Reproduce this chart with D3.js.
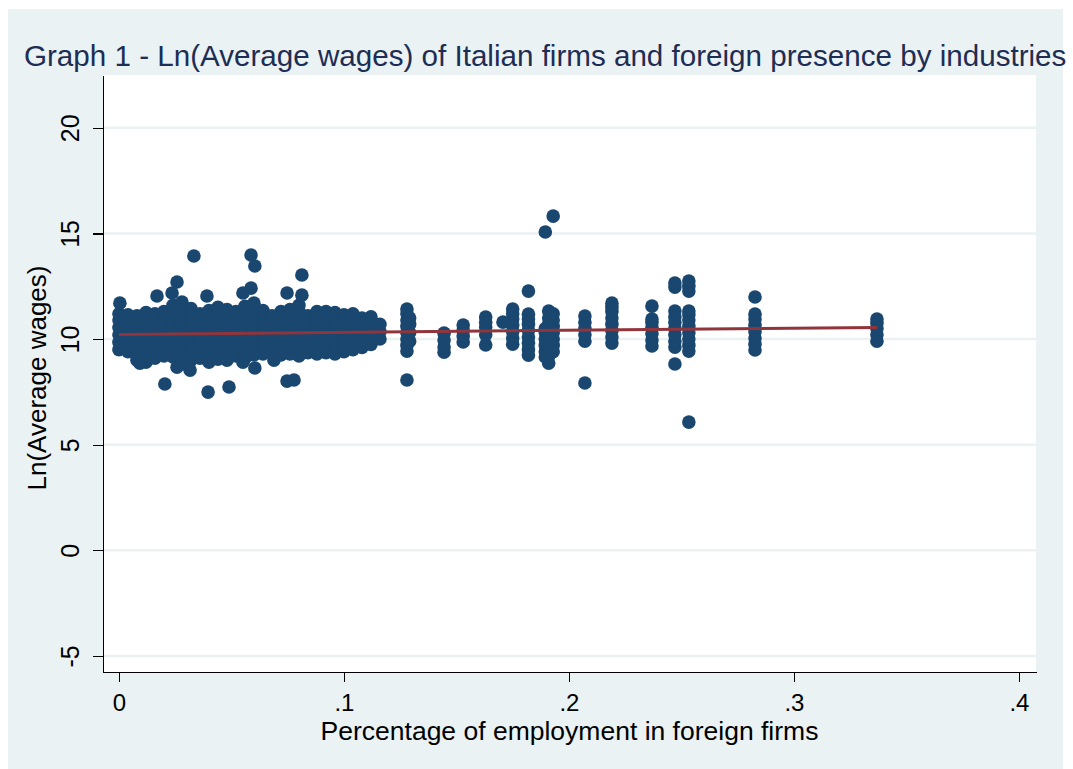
<!DOCTYPE html>
<html>
<head>
<meta charset="utf-8">
<title>Graph 1 - Ln(Average wages) of Italian firms and foreign presence by industries</title>
<script src="https://d3js.org/d3.v7.min.js"></script>
<style>
  body { margin: 0; background: #ffffff; font-family: "Liberation Sans", Arial, sans-serif; }
  .axis path, .axis line { stroke: #000; stroke-width: 1.2; shape-rendering: crispEdges; }
  .axis text { font-family: "Liberation Sans", Arial, sans-serif; fill: #000; }
  .grid line { stroke: #eaf2f3; stroke-width: 2.5; }
  .dot { fill: #1a476f; }
  .fit { fill: none; stroke: #90353b; stroke-width: 3; }
</style>
</head>
<body>
<svg id="chart" width="1073" height="769"></svg>
<script>
// axis ticks
var xTicks = [0, 0.1, 0.2, 0.3, 0.4];
var xTickLabels = ["0", ".1", ".2", ".3", ".4"];
var yTicks = [-5, 0, 5, 10, 15, 20];
var yTickLabels = ["-5", "0", "5", "10", "15", "20"];

// share of employment in foreign firms, one entry per industry column
var industryShare = [
  0.000, 0.004, 0.008, 0.012, 0.016, 0.020, 0.024, 0.028, 0.032, 0.036,
  0.040, 0.044, 0.048, 0.052, 0.056, 0.060, 0.064, 0.068, 0.072, 0.076,
  0.080, 0.084, 0.088, 0.092, 0.096, 0.100, 0.104, 0.108, 0.112, 0.116,
  0.1280, 0.1292, 0.1445, 0.1530, 0.1630, 0.1707, 0.1750, 0.1820, 0.1895, 0.1910,
  0.1930, 0.2071, 0.2191, 0.2369, 0.2471, 0.2533, 0.2827, 0.3369
];

// ln(average wages) of the firms in each industry column
var industryWages = [
  [9.5, 9.85, 10.2, 10.55, 10.9, 11.2],
  [9.4, 9.75, 10.1, 10.45, 10.8, 11.15],
  [9.0, 9.35, 9.7, 10.05, 10.4, 10.75, 11.1],
  [8.9, 9.25, 9.6, 9.95, 10.3, 10.65, 11.0, 11.25],
  [9.1, 9.45, 9.8, 10.15, 10.5, 10.85, 11.2],
  [9.2, 9.55, 9.9, 10.25, 10.6, 10.95, 11.3],
  [9.15, 9.5, 9.85, 10.2, 10.55, 10.9, 11.25, 11.6],
  [8.95, 9.3, 9.65, 10.0, 10.35, 10.7, 11.05, 11.4, 11.75],
  [9.0, 9.35, 9.7, 10.05, 10.4, 10.75, 11.1, 11.45],
  [9.1, 9.45, 9.8, 10.15, 10.5, 10.85, 11.2],
  [8.9, 9.25, 9.6, 9.95, 10.3, 10.65, 11.0, 11.35],
  [9.05, 9.4, 9.75, 10.1, 10.45, 10.8, 11.15, 11.5],
  [9.0, 9.35, 9.7, 10.05, 10.4, 10.75, 11.1, 11.4],
  [9.2, 9.55, 9.9, 10.25, 10.6, 10.95, 11.3],
  [9.1, 9.45, 9.8, 10.15, 10.5, 10.85, 11.2, 11.55],
  [9.25, 9.6, 9.95, 10.3, 10.65, 11.0, 11.35, 11.7],
  [9.3, 9.65, 10.0, 10.35, 10.7, 11.05, 11.35],
  [9.35, 9.7, 10.05, 10.4, 10.75, 11.1],
  [9.25, 9.6, 9.95, 10.3, 10.65, 11.0, 11.3],
  [9.3, 9.65, 10.0, 10.35, 10.7, 11.05, 11.4],
  [9.2, 9.55, 9.9, 10.25, 10.6, 10.95, 11.3, 11.6],
  [9.35, 9.7, 10.05, 10.4, 10.75, 11.1],
  [9.3, 9.65, 10.0, 10.35, 10.7, 11.05, 11.3],
  [9.35, 9.7, 10.05, 10.4, 10.75, 11.1, 11.3],
  [9.3, 9.65, 10.0, 10.35, 10.7, 11.05, 11.25],
  [9.4, 9.75, 10.1, 10.45, 10.8, 11.15],
  [9.5, 9.85, 10.2, 10.55, 10.9, 11.2],
  [9.6, 9.95, 10.3, 10.65, 11.0],
  [9.75, 10.1, 10.45, 10.8, 11.05],
  [10.0, 10.35, 10.7],
  [8.06, 9.43, 9.7, 10.0, 10.3, 10.6, 10.9, 11.2, 11.42],
  [9.9, 10.3, 10.7, 11.0],
  [9.38, 9.62, 9.95, 10.28],
  [9.86, 10.15, 10.4, 10.66],
  [9.72, 10.2, 10.57, 10.8, 11.04],
  [10.8],
  [9.76, 10.05, 10.35, 10.65, 10.95, 11.2, 11.42],
  [9.24, 9.5, 9.8, 10.1, 10.4, 10.7, 10.95, 11.18, 12.27],
  [9.15, 9.4, 9.7, 10.0, 10.3, 10.5, 15.07],
  [8.86, 9.2, 9.5, 9.8, 10.1, 10.4, 10.7, 11.0, 11.33],
  [9.4, 9.7, 10.0, 10.3, 10.6, 10.9, 11.2, 15.82],
  [7.92, 9.9, 10.2, 10.5, 10.8, 11.09],
  [9.81, 10.1, 10.4, 10.7, 11.0, 11.3, 11.5, 11.7],
  [9.67, 9.95, 10.25, 10.55, 10.8, 10.95, 11.56],
  [8.82, 9.62, 9.9, 10.2, 10.5, 10.8, 11.05, 11.33, 12.46, 12.65],
  [6.07, 9.43, 9.7, 10.0, 10.3, 10.6, 10.9, 11.15, 11.33, 12.27, 12.5, 12.75],
  [9.48, 9.75, 10.05, 10.35, 10.65, 10.95, 11.18, 11.99],
  [9.9, 10.2, 10.5, 10.75, 10.95]
];

// scattered firms away from the main columns
var otherShare = [0.0004, 0.0093, 0.0169, 0.0204, 0.0236, 0.0258, 0.0258, 0.0298, 0.0316, 0.0333,
                  0.0391, 0.0396, 0.0489, 0.0551, 0.0551, 0.0587, 0.0587, 0.0604, 0.0604, 0.0689,
                  0.0747, 0.0747, 0.0778, 0.0813, 0.0813];
var otherWage  = [11.70, 8.86, 12.04, 7.87, 12.18, 12.70, 8.67, 8.80, 8.53, 13.93,
                  12.04, 7.49, 7.73, 12.18, 8.90, 12.41, 13.98, 13.46, 8.63, 9.00,
                  12.18, 8.01, 8.06, 13.03, 12.08];

// linear fit
var fitShare = [0, 0.3369];
var fitWage = [10.22, 10.55];

var svg = d3.select("#chart");
var plot = { left: 103, right: 1036, top: 75, bottom: 672 };

var xScale = d3.scaleLinear().domain([-0.0071, 0.4076]).range([plot.left, plot.right]);
var yScale = d3.scaleLinear().domain([-5.76, 22.5]).range([plot.bottom, plot.top]);

// graph region + plot region
svg.append("rect").attr("x", 8).attr("y", 9).attr("width", 1055).attr("height", 760).attr("fill", "#eaf2f3");
svg.append("rect").attr("x", plot.left).attr("y", plot.top)
    .attr("width", plot.right - plot.left).attr("height", plot.bottom - plot.top).attr("fill", "#ffffff");

svg.append("text")
    .attr("x", 24).attr("y", 66)
    .attr("fill", "#1e2d53")
    .style("font-size", "29.6px")
    .text("Graph 1 - Ln(Average wages) of Italian firms and foreign presence by industries");

// grid
svg.append("g").attr("class", "grid")
    .selectAll("line").data(yTicks).enter().append("line")
    .attr("x1", plot.left).attr("x2", plot.right)
    .attr("y1", function(d) { return yScale(d); })
    .attr("y2", function(d) { return yScale(d); });

// points
var points = [];
industryShare.forEach(function(s, i) {
    industryWages[i].forEach(function(w) { points.push({ share: s, wage: w }); });
});
otherShare.forEach(function(s, i) { points.push({ share: s, wage: otherWage[i] }); });

svg.append("g").selectAll("circle").data(points).enter().append("circle")
    .attr("class", "dot")
    .attr("cx", function(d) { return xScale(d.share); })
    .attr("cy", function(d) { return yScale(d.wage); })
    .attr("r", 6.8);

// fitted line
var fitData = fitShare.map(function(s, i) { return [s, fitWage[i]]; });
svg.append("path").datum(fitData).attr("class", "fit")
    .attr("d", d3.line().x(function(d) { return xScale(d[0]); }).y(function(d) { return yScale(d[1]); }));

// axes
var yAxis = svg.append("g").attr("class", "axis")
    .attr("transform", "translate(" + plot.left + ",0)")
    .call(d3.axisLeft(yScale).tickValues(yTicks).tickSize(10).tickSizeOuter(0)
        .tickFormat(function(d, i) { return yTickLabels[i]; }));
yAxis.selectAll("text")
    .attr("transform", "rotate(-90)")
    .attr("x", 0).attr("y", -24).attr("dy", 0)
    .attr("text-anchor", "middle")
    .style("font-size", "25px");

var xAxis = svg.append("g").attr("class", "axis")
    .attr("transform", "translate(0," + plot.bottom + ")")
    .call(d3.axisBottom(xScale).tickValues(xTicks).tickSize(10).tickSizeOuter(0)
        .tickFormat(function(d, i) { return xTickLabels[i]; }));
xAxis.selectAll("text")
    .attr("y", 39).attr("dy", 0)
    .style("font-size", "24px");

// axis titles
svg.append("text")
    .attr("x", (plot.left + plot.right) / 2).attr("y", 740)
    .attr("text-anchor", "middle")
    .style("font-size", "26.5px")
    .text("Percentage of employment in foreign firms");

svg.append("text")
    .attr("transform", "translate(46," + 378 + ") rotate(-90)")
    .attr("text-anchor", "middle")
    .style("font-size", "26px")
    .text("Ln(Average wages)");
</script>
</body>
</html>
